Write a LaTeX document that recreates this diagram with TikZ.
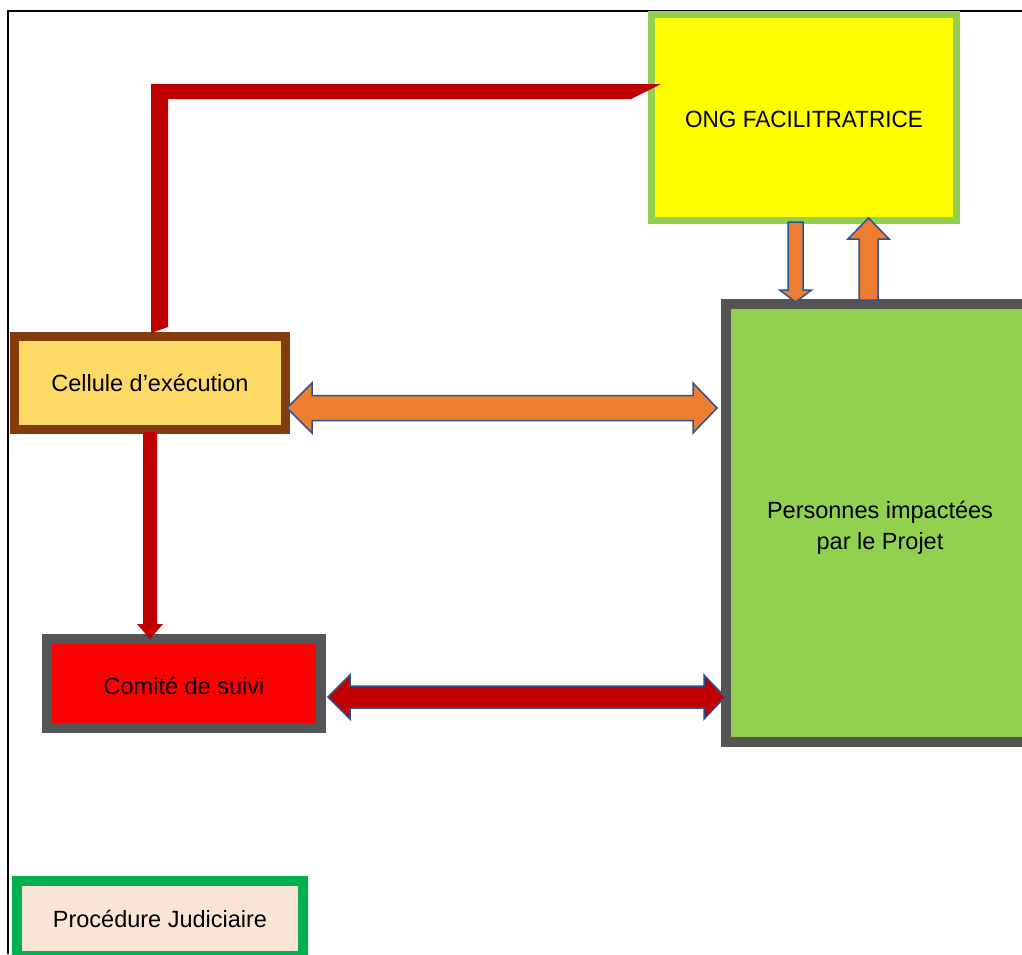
\documentclass[tikz,border=0pt]{standalone}
\usepackage{fontspec}
\setmainfont{Liberation Sans}
\usetikzlibrary{calc}

\definecolor{ongyellow}{HTML}{FFFF00}
\definecolor{lightgreen}{HTML}{92D050}
\definecolor{brownedge}{HTML}{843C0C}
\definecolor{cellfill}{HTML}{FFD966}
\definecolor{greyedge}{HTML}{555555}
\definecolor{brightred}{HTML}{FF0000}
\definecolor{darkred}{HTML}{C00000}
\definecolor{judgreen}{HTML}{00B050}
\definecolor{judfill}{HTML}{FBE5D6}
\definecolor{orangearrow}{HTML}{ED7D31}
\definecolor{outlineblue}{HTML}{2F528F}

\begin{document}
\begin{tikzpicture}[x=1pt,y=-1pt,
  box/.style={rectangle, draw, inner sep=0pt, align=center,
    font=\fontsize{23.5}{31}\selectfont},
  fatorange/.style={fill=orangearrow, draw=outlineblue, line width=1.5pt, line join=miter},
  fatred/.style={fill=darkred, draw=outlineblue, line width=1.5pt, line join=miter}]

\useasboundingbox (0,0) rectangle (1022,954);
\clip (0,0) rectangle (1022,954);
\fill[white] (0,0) rectangle (1022,954);

% page frame
\draw[line width=1.5pt] (1022,11) -- (8,11) -- (8,954);

% boxes
\node[box, line width=7pt, draw=lightgreen, fill=ongyellow,
  minimum width=305pt, minimum height=206pt] (ong) at (804,117.5)
  {\raisebox{-2pt}[\height][\depth]{\scalebox{0.96}[1]{ONG FACILITRATRICE}}};
\node[box, line width=9pt, draw=brownedge, fill=cellfill,
  minimum width=271pt, minimum height=93pt] (cel) at (150,383) {Cellule d’exécution};
\node[box, line width=10pt, draw=greyedge, fill=brightred,
  minimum width=274pt, minimum height=89pt] (com) at (184,683.5)
  {\raisebox{-2pt}[\height][\depth]{Comité de suivi}};
\node[box, line width=10pt, draw=greyedge, fill=lightgreen,
  minimum width=308pt, minimum height=438pt] (pers) at (880,523)
  {\raisebox{-5pt}[\height][\depth]{\begin{tabular}{@{}c@{}}Personnes impactées\\par le Projet\end{tabular}}};
\node[box, line width=10pt, draw=judgreen, fill=judfill,
  minimum width=286pt, minimum height=75pt] (jud) at (160,918.5) {Procédure Judiciaire};

% elbow connector from the Cellule to the ONG
\coordinate (e1) at ($(cel.north)+(1,1)$);
\coordinate (e2) at ($(ong.west)+(13,-33.5)$);
\fill[darkred] (e1) -- (e1 |- e2) -- (e2) -- ++(-30,15)
  -- ($(e1 |- e2)+(17,15)$) -- ($(e1)+(17,-6)$) -- cycle;

% arrow from the Cellule down to the Comité
\coordinate (d0) at ($(cel.south)+(0,-2)$);
\coordinate (d1) at ($(cel.south |- com.north)+(0,5)$);
\fill[darkred] ($(d0)+(-7,0)$) -- ($(d1)+(-7,-15)$) -- ($(d1)+(-13,-15)$) -- (d1)
  -- ($(d1)+(13,-15)$) -- ($(d1)+(7,-15)$) -- ($(d0)+(7,0)$) -- cycle;

% double arrow Cellule <-> Personnes
\coordinate (a) at ($(cel.east)+(-3,25)$);
\coordinate (b) at ($(pers.west |- a)+(-4,0)$);
\draw[fatorange] (a) -- ($(a)+(25,-25)$) -- ($(a)+(25,-12.5)$) -- ($(b)+(-24,-12.5)$)
  -- ($(b)+(-24,-25)$) -- (b) -- ($(b)+(-24,25)$) -- ($(b)+(-24,12.5)$)
  -- ($(a)+(25,12.5)$) -- ($(a)+(25,25)$) -- cycle;

% double arrow Comité <-> Personnes
\coordinate (c) at ($(com.east)+(2,13.5)$);
\coordinate (d) at ($(pers.west |- c)+(4,0)$);
\draw[fatred] (c) -- ($(c)+(22,-22)$) -- ($(c)+(22,-11)$) -- ($(d)+(-21,-11)$)
  -- ($(d)+(-21,-22)$) -- (d) -- ($(d)+(-21,22)$) -- ($(d)+(-21,11)$)
  -- ($(c)+(22,11)$) -- ($(c)+(22,22)$) -- cycle;

% ONG -> Personnes
\coordinate (p0) at ($(ong.south)+(-8.5,-2)$);
\coordinate (p1) at ($(p0 |- pers.north)+(0,3)$);
\draw[fatorange] ($(p0)+(-7.5,0)$) -- ($(p1)+(-7.5,-12)$) -- ($(p1)+(-16,-12)$) -- (p1)
  -- ($(p1)+(16,-12)$) -- ($(p1)+(7.5,-12)$) -- ($(p0)+(7.5,0)$) -- cycle;

% Personnes -> ONG
\coordinate (q0) at ($(pers.north)+(-11.5,1)$);
\coordinate (q1) at ($(q0 |- ong.south)+(0,-6)$);
\draw[fatorange] ($(q0)+(-9.5,0)$) -- ($(q1)+(-9.5,21)$) -- ($(q1)+(-20.5,21)$) -- (q1)
  -- ($(q1)+(20.5,21)$) -- ($(q1)+(9.5,21)$) -- ($(q0)+(9.5,0)$) -- cycle;

\end{tikzpicture}
\end{document}
